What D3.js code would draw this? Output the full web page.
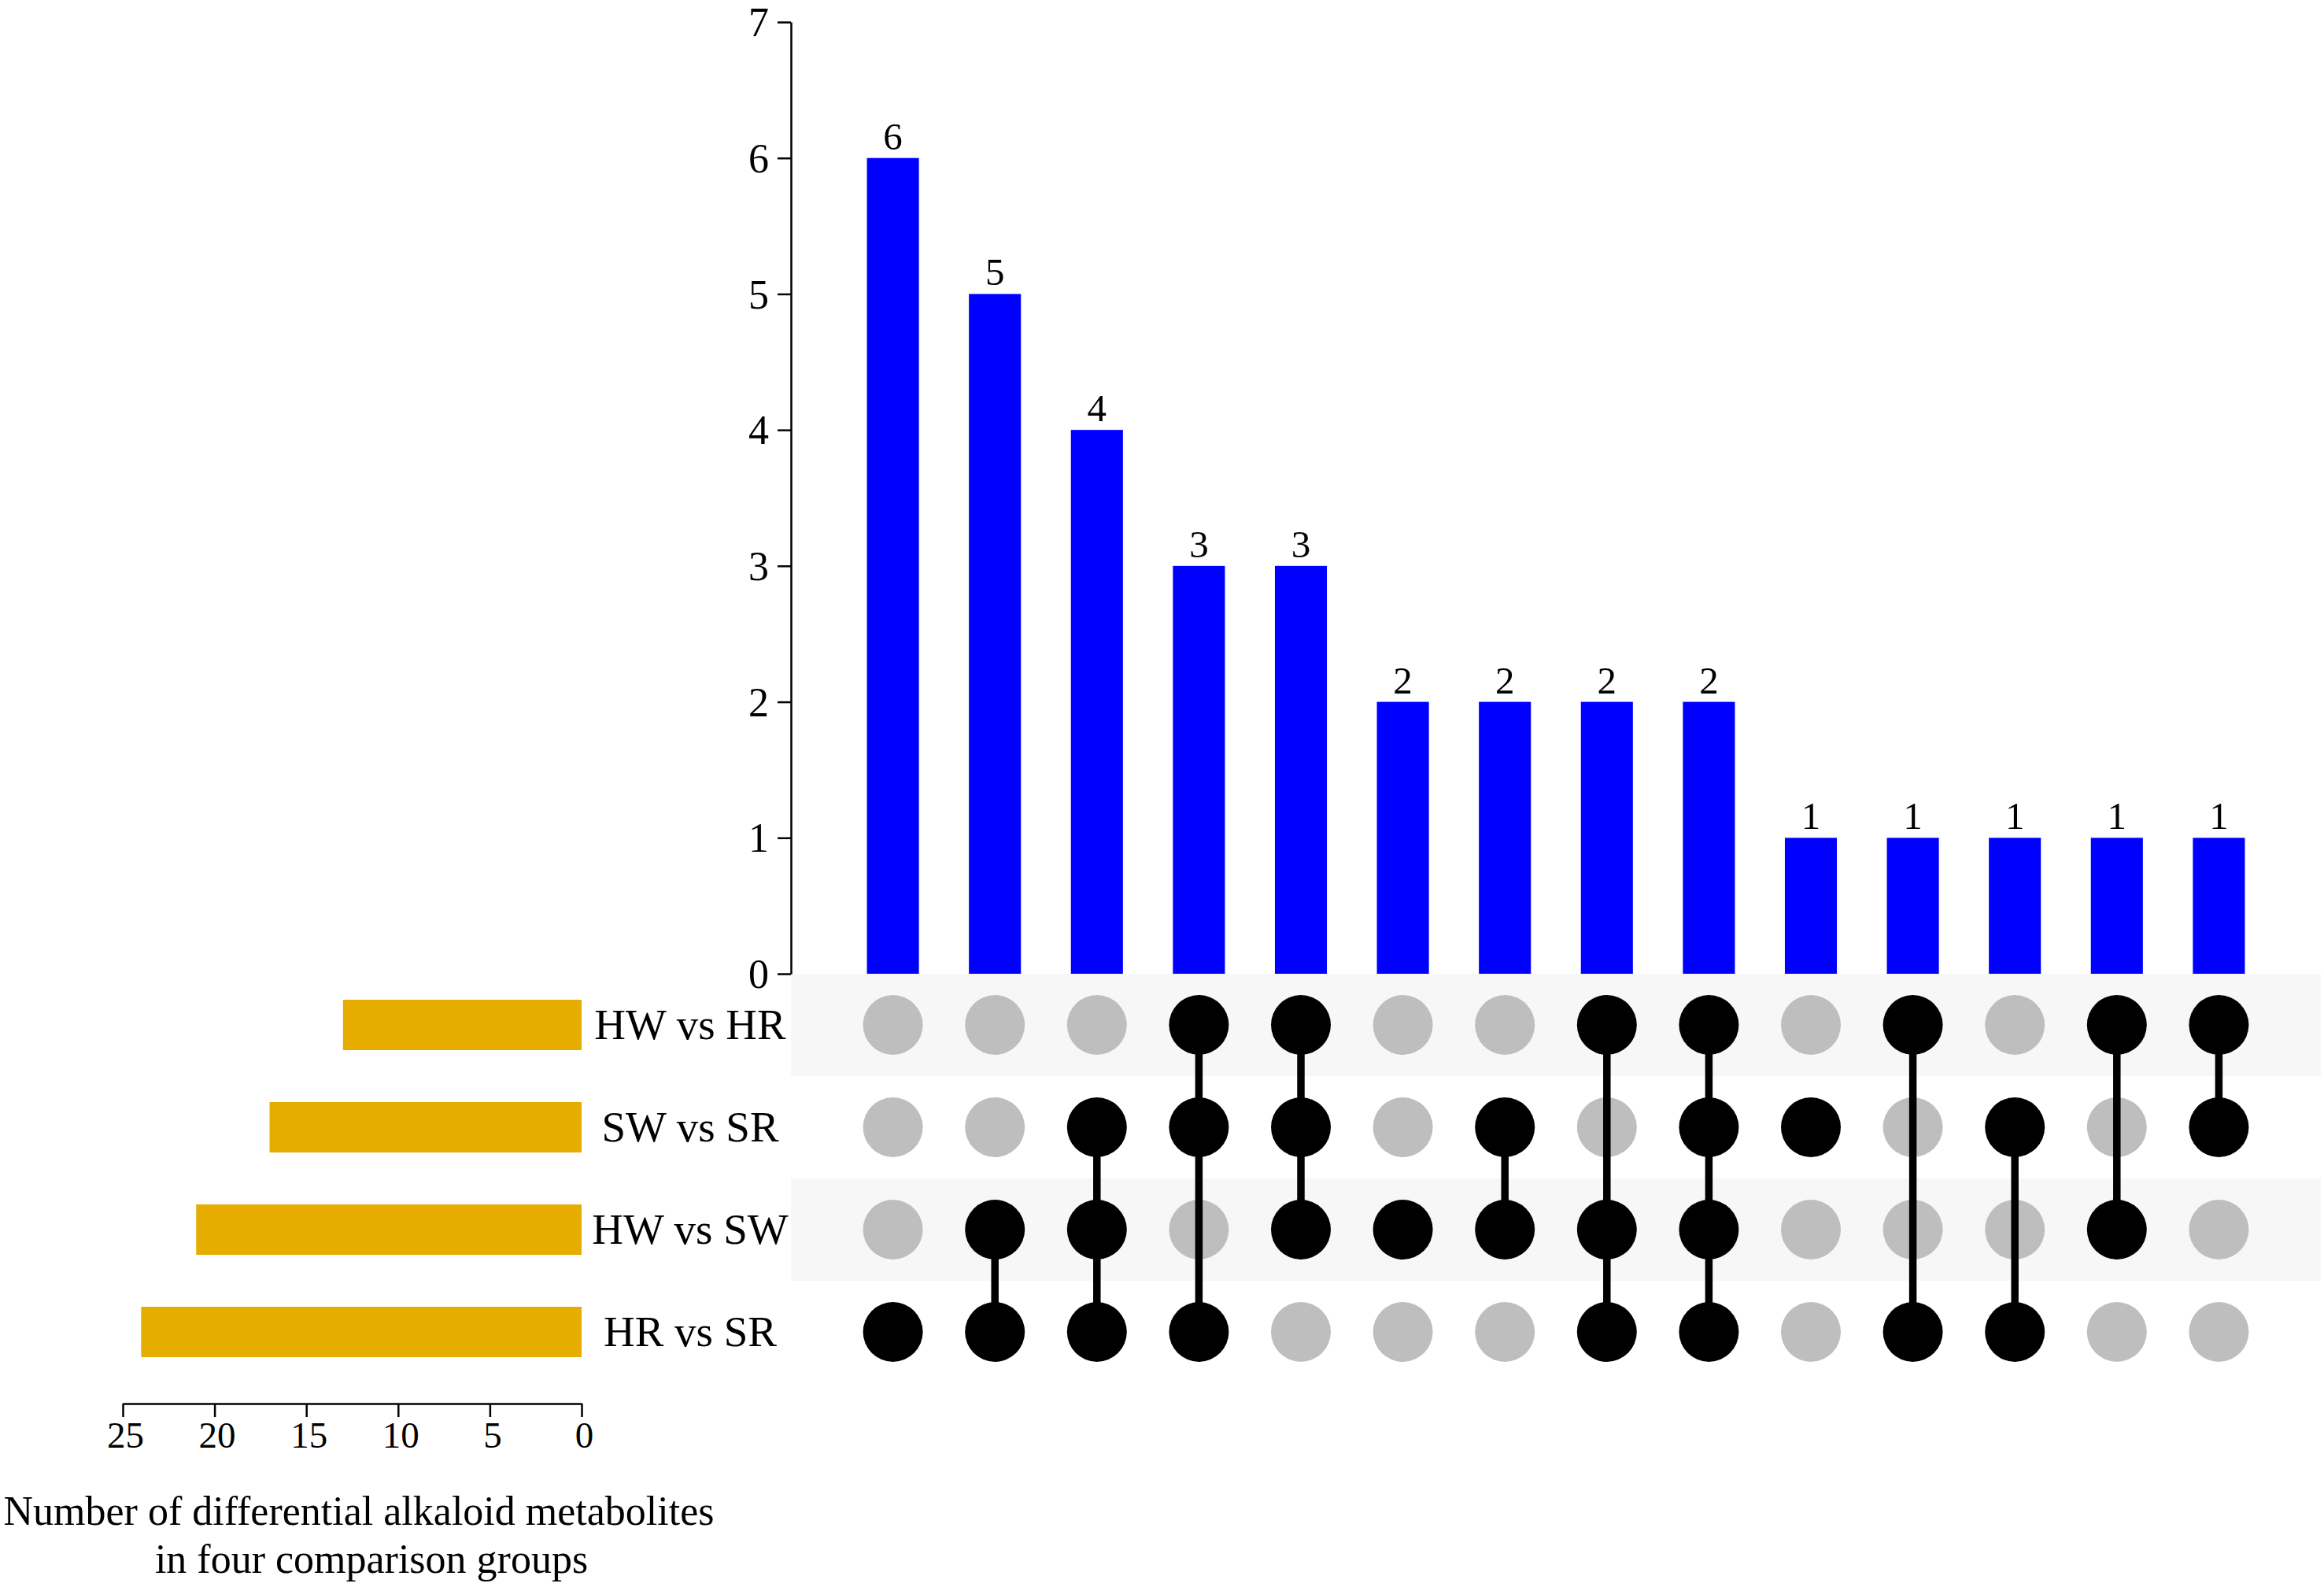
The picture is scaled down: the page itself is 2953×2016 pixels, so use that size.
<!DOCTYPE html>
<html><head><meta charset="utf-8">
<script src="https://cdn.jsdelivr.net/npm/d3@7"></script>
<style>html,body{margin:0;padding:0;background:#fff;}svg{display:block;}</style>
</head><body>
<script>
const sets = ["HW vs HR", "SW vs SR", "HW vs SW", "HR vs SR"];
const setSizes = [13, 17, 21, 24];
const intersectionCounts = [6, 5, 4, 3, 3, 2, 2, 2, 2, 1, 1, 1, 1, 1];
const intersectionMembers = [[3],[2,3],[1,2,3],[0,1,3],[0,1,2],[2],[1,2],[0,2,3],[0,1,2,3],[1],[0,3],[1,3],[0,2],[0,1]];
const yTicks = [0, 1, 2, 3, 4, 5, 6, 7];
const setTicks = [0, 5, 10, 15, 20, 25];
const titleLines = ["Number of differential alkaloid metabolites", "in four comparison groups"];

const W = 2953, H = 2016;
const FONT = "'Liberation Serif','Times New Roman',serif";
const svg = d3.select("body").append("svg").attr("width", W).attr("height", H)
  .style("font-family", FONT);

const axisX = 1005, plotRight = 2949, y0 = 1237, y7 = 28;
const y = d3.scaleLinear().domain([0, 7]).range([y0, y7]);
const x = d3.scaleBand().domain(d3.range(intersectionCounts.length)).range([axisX, plotRight])
  .paddingInner(0.49).paddingOuter(0.745);
const row = d3.scaleBand().domain(sets).range([y0, y0 + 520]);
const xs = d3.scaleLinear().domain([0, 25]).range([739, 156]);

// matrix background bands
svg.append("g").selectAll("rect").data(sets.filter((d, i) => i % 2 === 0)).join("rect")
  .attr("x", axisX).attr("width", plotRight - axisX)
  .attr("y", d => row(d)).attr("height", row.bandwidth())
  .attr("fill", "#f7f7f7");

// intersection bars
svg.append("g").selectAll("rect").data(intersectionCounts).join("rect")
  .attr("x", (d, i) => x(i)).attr("width", x.bandwidth())
  .attr("y", d => y(d)).attr("height", d => y(0) - y(d))
  .attr("fill", "#0000ff");
svg.append("g").selectAll("text").data(intersectionCounts).join("text")
  .attr("x", (d, i) => x(i) + x.bandwidth() / 2).attr("y", d => y(d) - 11)
  .attr("text-anchor", "middle").attr("font-size", 49).attr("fill", "#000")
  .text(d => d);

// y axis
const ya = svg.append("g").attr("transform", `translate(${axisX},0)`)
  .call(d3.axisLeft(y).tickValues(yTicks).tickFormat(d3.format("d")).tickSize(17).tickSizeOuter(0).tickPadding(11));
ya.selectAll("path,line").attr("stroke", "#000").attr("stroke-width", 2.5);
ya.selectAll("text").attr("font-size", 52).attr("font-family", FONT).attr("fill", "#000").attr("dy", "0.34em");

// matrix dots & lines
const cy = s => row(s) + row.bandwidth() / 2;
const cols = svg.append("g");
intersectionMembers.forEach((mem, i) => {
  const cx = x(i) + x.bandwidth() / 2;
  const g = cols.append("g");
  g.selectAll("circle").data(sets).join("circle")
    .attr("cx", cx).attr("cy", d => cy(d)).attr("r", 38)
    .attr("fill", (d, j) => mem.includes(j) ? "#000" : "#bebebe");
  if (mem.length > 1) {
    const ys = mem.map(j => cy(sets[j]));
    g.append("line").attr("x1", cx).attr("x2", cx)
      .attr("y1", d3.min(ys)).attr("y2", d3.max(ys))
      .attr("stroke", "#000").attr("stroke-width", 9.5);
  }
});

// set size bars
svg.append("g").selectAll("rect").data(setSizes).join("rect")
  .attr("x", d => xs(d)).attr("width", d => xs(0) - xs(d))
  .attr("y", (d, i) => cy(sets[i]) - 32).attr("height", 64)
  .attr("fill", "#e6ac00");

// set labels
svg.append("g").selectAll("text").data(sets).join("text")
  .attr("x", 877).attr("y", d => cy(d)).attr("dy", "0.33em")
  .attr("text-anchor", "middle").attr("font-size", 55).attr("fill", "#000")
  .text(d => d);

// set size axis
const xa = svg.append("g").attr("transform", "translate(0,1783)")
  .call(d3.axisBottom(xs).tickValues(setTicks).tickFormat(d3.format("d")).tickSize(17).tickSizeOuter(0).tickPadding(6));
xa.selectAll("path,line").attr("stroke", "#000").attr("stroke-width", 2.5);
xa.selectAll("text").attr("font-size", 47).attr("font-family", FONT).attr("fill", "#000").attr("dx", 3);

// axis title
svg.append("text").attr("x", 456).attr("y", 1937).attr("text-anchor", "middle")
  .attr("font-size", 52).attr("fill", "#000").text(titleLines[0]);
svg.append("text").attr("x", 472).attr("y", 1998).attr("text-anchor", "middle")
  .attr("font-size", 52).attr("fill", "#000").text(titleLines[1]);
</script>
</body></html>
